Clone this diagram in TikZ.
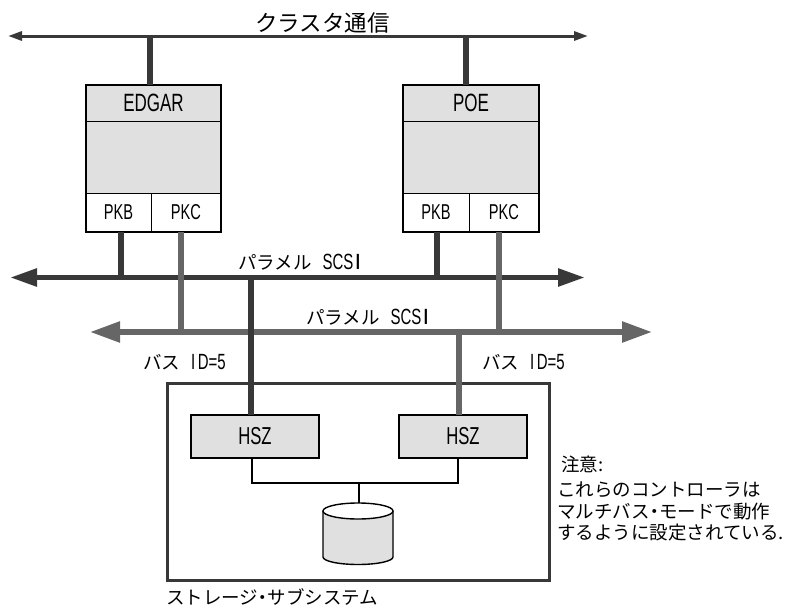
\documentclass[tikz,border=0pt]{standalone}
\usepackage{fontspec}
\usepackage{tikz}
\usetikzlibrary{arrows.meta}
\newfontfamily\jpfont{Noto Sans CJK JP}
\newfontfamily\hwfont[FakeStretch=0.68]{Liberation Sans}
\newcommand{\hwtext}[1]{{\hwfont\fontsize{22}{22}\selectfont #1}}
\newcommand{\middot}{\kern-4.5pt・\kern-4.5pt}
\definecolor{boxgray}{gray}{0.88}
\definecolor{darkline}{gray}{0.22}
\definecolor{midline}{gray}{0.40}
\tikzset{
	graybox/.style={draw=black,line width=.8pt,fill=boxgray,inner sep=0pt,outer sep=0pt},
	portbox/.style={draw=black,line width=.8pt,fill=white,inner sep=0pt,outer sep=0pt,font=\hwfont\fontsize{21.5}{21.5}\selectfont},
	framebox/.style={draw=black,line width=2pt,inner sep=0pt,outer sep=0pt},
	ctrlbox/.style={graybox,line width=1.6pt,minimum width=128pt,minimum height=43pt,font=\hwfont\fontsize{24.5}{24.5}\selectfont},
	jplabel/.style={inner sep=0pt,anchor=west,font=\jpfont\fontsize{18.5}{18.5}\selectfont},
	darkbus/.style={draw=darkline,line width=5.5pt,{Triangle[length=27pt,width=17pt]}-{Triangle[length=27pt,width=17pt]}},
	midbus/.style={draw=midline,line width=5.5pt,{Triangle[length=30pt,width=20pt]}-{Triangle[length=30pt,width=20pt]}},
	darkdrop/.style={draw=darkline,line width=5.5pt},
	middrop/.style={draw=midline,line width=5.5pt}
}
\begin{document}
\begin{tikzpicture}[x=1pt,y=-1pt]
\useasboundingbox (0,0) rectangle (788,608);
% cluster line
\coordinate (clusterL) at (8,36);
\coordinate (clusterR) at (588,36);
\draw[draw=darkline,line width=3pt,{Triangle[length=14pt,width=9pt]}-{Triangle[length=14pt,width=9pt]}] (clusterL) -- (clusterR);
\node[jplabel,font=\jpfont\fontsize{22.5}{22.5}\selectfont] (clustertext) at (255,23) {クラスタ通信};
% hosts
\node[graybox,minimum width=135pt,minimum height=36pt] (edgarname) at (153.5,103) {\hwfont\fontsize{25}{25}\selectfont EDGAR\hspace{7pt}};
\node[graybox,minimum width=135pt,minimum height=72pt] (edgarbody) at (153.5,157) {};
\node[portbox,minimum width=65pt,minimum height=39pt] (edgarpkb) at (118.5,212.5) {PKB\hspace{7pt}};
\node[portbox,minimum width=70pt,minimum height=39pt] (edgarpkc) at (186,212.5) {PKC\hspace{11pt}};
\node[framebox,minimum width=135pt,minimum height=147pt] (edgar) at (153.5,158.5) {};
\node[graybox,minimum width=136pt,minimum height=36pt] (poename) at (471,103) {\hwfont\fontsize{25}{25}\selectfont POE\hspace{9pt}};
\node[graybox,minimum width=136pt,minimum height=72pt] (poebody) at (471,157) {};
\node[portbox,minimum width=66pt,minimum height=39pt] (poepkb) at (436,212.5) {PKB\hspace{7pt}};
\node[portbox,minimum width=70pt,minimum height=39pt] (poepkc) at (504,212.5) {PKC\hspace{11pt}};
\node[framebox,minimum width=136pt,minimum height=147pt] (poe) at (471,158.5) {};
\draw[darkdrop] (150,36) -- (edgar.north -| 150,0);
\draw[darkdrop] (466,36) -- (poe.north -| 466,0);
% storage
\node[framebox,draw=darkline,line width=3pt,minimum width=382pt,minimum height=197pt] (storage) at (358,481.5) {};
\node[ctrlbox] (hszL) at (255,436.5) {HSZ};
\node[ctrlbox] (hszR) at (463,436.5) {HSZ};
\coordinate (joint) at (359,483);
\coordinate (disktop) at (359,503);
\draw[line width=1.2pt] (hszL.south -| 252,0) |- (joint) -| (hszR.south -| 458,0);
\draw[line width=1.2pt] (joint) -- (disktop);
\draw[line width=1.4pt,fill=boxgray] (323,511) -- (323,557) arc[start angle=180,end angle=360,x radius=35,y radius=-7.5] -- (393,511);
\draw[line width=1.4pt,fill=white] (358,511) ellipse[x radius=35,y radius=8];
% buses
\coordinate (busAL) at (10,277.5);
\coordinate (busAR) at (585,277.5);
\coordinate (busBL) at (90,332);
\coordinate (busBR) at (652,332);
\draw[midbus] (busBL) -- (busBR);
\draw[darkbus] (busAL) -- (busAR);
\draw[darkdrop] (edgarpkb.south -| 121,0) -- (121,277.5);
\draw[darkdrop] (poepkb.south -| 437,0) -- (437,277.5);
\draw[middrop] (edgarpkc.south -| 181,0) -- (181,332);
\draw[middrop] (poepkc.south -| 499,0) -- (499,332);
\draw[darkdrop] (251,277.5) -- (hszL.north -| 251,0);
\draw[middrop] (459,332) -- (hszR.north -| 459,0);
% labels
\node[jplabel] (busAtext) at (238,262) {パラメル\hspace{11pt}\hwtext{SCS\kern2.5pt\textbf{I}}};
\node[jplabel] (busBtext) at (306,317) {パラメル\hspace{11pt}\hwtext{SCS\kern2.5pt\textbf{I}}};
\node[jplabel] (idL) at (143,362) {バス\hspace{11pt}\hwtext{I\kern2.5pt D=5}};
\node[jplabel] (idR) at (482,362) {バス\hspace{11pt}\hwtext{I\kern2.5pt D=5}};
\node[jplabel] (storagetext) at (166,597) {ストレージ\middot サブシステム};
\node[jplabel] (notehead) at (561,464) {注意:};
\node[jplabel] (noteA) at (557,490) {これらのコントローラは};
\node[jplabel] (noteB) at (557,512) {マルチバス\middot モードで動作};
\node[jplabel] (noteC) at (557,533) {するように設定されている.};
\end{tikzpicture}
\end{document}
